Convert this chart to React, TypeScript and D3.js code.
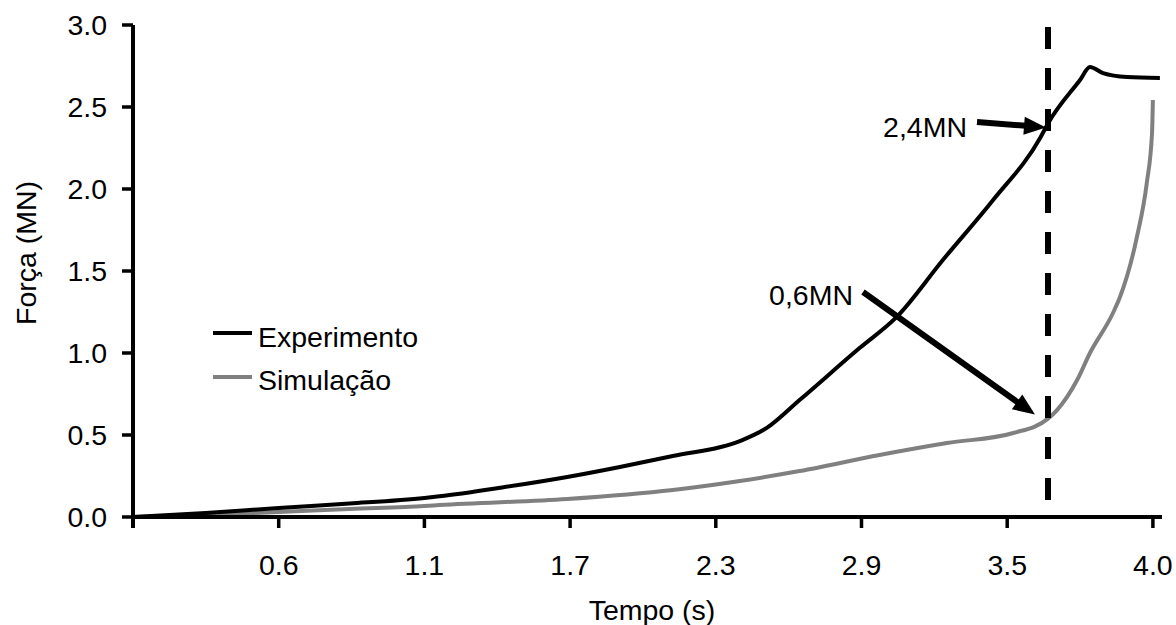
import React from "react";
import * as d3 from "d3";

// Measured force (MN) against time (s)
const experimentTime = [0, 0.3, 0.6, 0.843, 1.1, 1.162, 1.42, 1.688, 1.905, 2.123, 2.399, 2.51, 2.645, 2.892, 3.045, 3.235, 3.442, 3.613, 3.64, 3.75, 3.784, 3.829, 3.911, 4.024];
const experimentForce = [0, 0.024, 0.055, 0.082, 0.116, 0.126, 0.18, 0.244, 0.305, 0.372, 0.463, 0.543, 0.713, 1.03, 1.22, 1.567, 1.933, 2.311, 2.4, 2.665, 2.744, 2.707, 2.683, 2.677];

// Simulated force (MN) against time (s)
const simulationTime = [0, 0.3, 0.6, 0.843, 1.1, 1.162, 1.688, 2.123, 2.399, 2.645, 2.974, 3.252, 3.521, 3.64, 3.671, 3.74, 3.784, 3.863, 3.887, 3.945, 3.979, 3.997, 4.0];
const simulationForce = [0, 0.012, 0.03, 0.049, 0.067, 0.073, 0.11, 0.165, 0.22, 0.28, 0.378, 0.451, 0.512, 0.6, 0.652, 0.835, 1.0, 1.244, 1.341, 1.707, 2.037, 2.341, 2.543];

// Category-style time axis: origin plus labelled ticks
const xTickValues = [0, 0.6, 1.1, 1.7, 2.3, 2.9, 3.5, 4.0];
const xTickLabels = ["", "0.6", "1.1", "1.7", "2.3", "2.9", "3.5", "4.0"];
const yTicks = [0, 0.5, 1.0, 1.5, 2.0, 2.5, 3.0];

const seriesNames = ["Experimento", "Simulação"];
const seriesColors = ["#000000", "#808080"];

// Time of the highlighted instant and the forces read there
const markTime = 3.64;
const markLabels = ["2,4MN", "0,6MN"];

const FONT = "'Liberation Sans', Arial, sans-serif";

export default function App() {
  const width = 1176;
  const height = 625;
  const left = 133;
  const step = 145.7;
  const bottom = 517;
  const top = 25;

  const x = d3
    .scaleLinear()
    .domain(xTickValues)
    .range(xTickValues.map((_, i) => left + i * step));
  const y = d3.scaleLinear().domain([0, 3]).range([bottom, top]);

  const line = d3
    .line<[number, number]>()
    .x((d) => x(d[0]))
    .y((d) => y(d[1]))
    .curve(d3.curveMonotoneX);

  const expPts = experimentTime.map((t, i) => [t, experimentForce[i]] as [number, number]);
  const simPts = simulationTime.map((t, i) => [t, simulationForce[i]] as [number, number]);

  const xMark = x(markTime);
  const axisEnd = 1162;

  // arrow: shaft plus filled head
  const arrow = (x1: number, y1: number, x2: number, y2: number) => {
    const dx = x2 - x1;
    const dy = y2 - y1;
    const len = Math.hypot(dx, dy);
    const ux = dx / len;
    const uy = dy / len;
    const hl = 22;
    const hw = 9;
    const bx = x2 - ux * hl;
    const by = y2 - uy * hl;
    const head = `M${x2},${y2}L${bx - uy * hw},${by + ux * hw}L${bx + uy * hw},${by - ux * hw}Z`;
    return (
      <g>
        <line x1={x1} y1={y1} x2={bx + ux * 2} y2={by + uy * 2} stroke="#000" strokeWidth={6} />
        <path d={head} fill="#000" />
      </g>
    );
  };

  return (
    <svg
      width={width}
      height={height}
      style={{ position: "absolute", left: 0, top: 0, background: "#fff" }}
      fontFamily={FONT}
    >
      <rect width={width} height={height} fill="#fff" />

      {/* data lines */}
      <path d={line(simPts) || ""} fill="none" stroke={seriesColors[1]} strokeWidth={4} strokeLinejoin="round" />
      <path d={line(expPts) || ""} fill="none" stroke={seriesColors[0]} strokeWidth={4} strokeLinejoin="round" />

      {/* vertical marker */}
      <line x1={xMark} x2={xMark} y1={27} y2={505} stroke="#000" strokeWidth={6} strokeDasharray="22 19" />

      {/* y axis */}
      <line x1={left} x2={left} y1={top} y2={528} stroke="#000" strokeWidth={4} />
      {yTicks.map((v) => (
        <g key={v}>
          <line x1={122} x2={left} y1={y(v)} y2={y(v)} stroke="#000" strokeWidth={3.5} />
          <text x={107} y={y(v)} dy="0.36em" textAnchor="end" fontSize={28.5} fill="#000">
            {d3.format(".1f")(v)}
          </text>
        </g>
      ))}

      {/* x axis */}
      <line x1={left - 1} x2={axisEnd} y1={bottom} y2={bottom} stroke="#000" strokeWidth={4} />
      {xTickValues.map((v, i) => (
        <g key={i}>
          <line x1={x(v)} x2={x(v)} y1={bottom} y2={528} stroke="#000" strokeWidth={3.5} />
          <text x={x(v)} y={575} textAnchor="middle" fontSize={28.5} fill="#000">
            {xTickLabels[i]}
          </text>
        </g>
      ))}

      {/* axis titles */}
      <text x={652} y={620} textAnchor="middle" fontSize={28.5} fill="#000">
        Tempo (s)
      </text>
      <text transform="translate(36,253) rotate(-90)" textAnchor="middle" fontSize={28.5} fill="#000">
        Força (MN)
      </text>

      {/* legend */}
      {seriesNames.map((name, i) => (
        <g key={name}>
          <line x1={213} x2={252} y1={333 + i * 44} y2={333 + i * 44} stroke={seriesColors[i]} strokeWidth={4} />
          <text x={258} y={347 + i * 43} fontSize={28.5} fill="#000">
            {name}
          </text>
        </g>
      ))}

      {/* annotations */}
      <text x={967} y={137} textAnchor="end" fontSize={28.5} fill="#000">
        {markLabels[0]}
      </text>
      {arrow(977, 122, xMark - 2, y(2.4) + 4)}
      <text x={853} y={305} textAnchor="end" fontSize={28.5} fill="#000">
        {markLabels[1]}
      </text>
      {arrow(863, 292, xMark - 13, y(0.6) - 4)}
    </svg>
  );
}
